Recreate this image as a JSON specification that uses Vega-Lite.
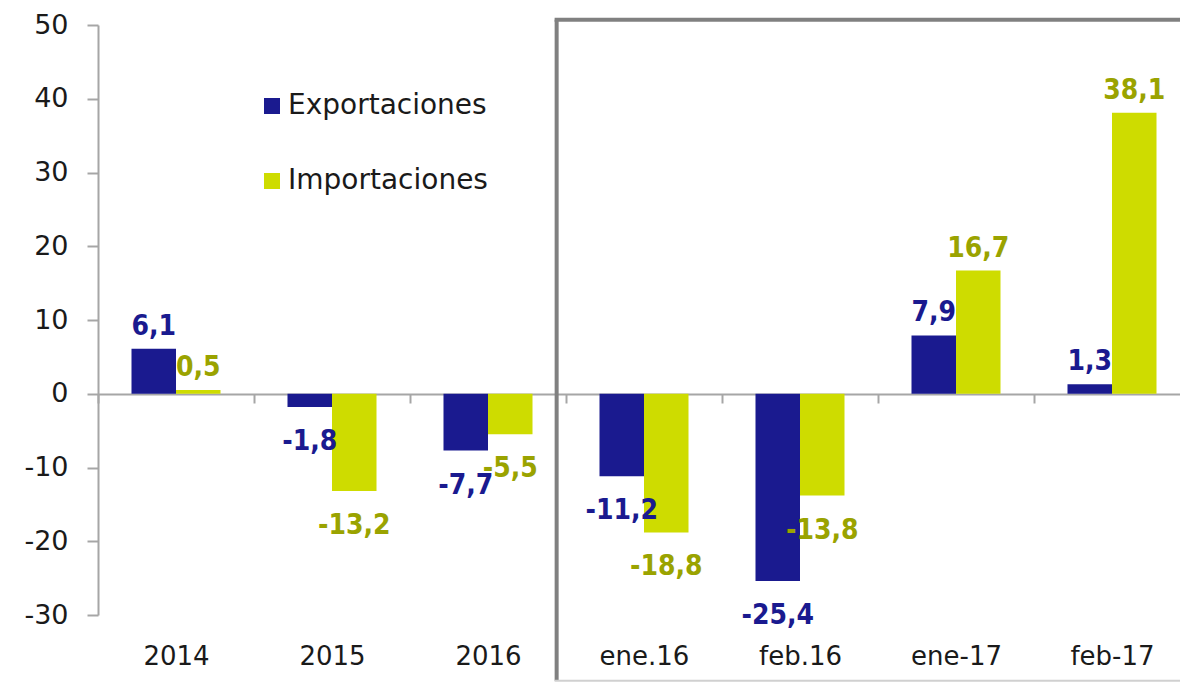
{
  "$schema": "https://vega.github.io/schema/vega-lite/v6.json",
  "width": 1092,
  "height": 590,
  "autosize": {"type": "none"},
  "padding": {"left": 98, "top": 25, "right": -10, "bottom": 68},
  "background": "white",
  "config": {
    "view": {"stroke": null},
    "locale": {"number": {"decimal": ",", "thousands": ".", "grouping": [3], "currency": ["", " €"], "minus": "-"}}
  },
  "data": {
    "values": [
      {"periodo": "2014", "serie": "Exportaciones", "valor": 6.1},
      {"periodo": "2014", "serie": "Importaciones", "valor": 0.5},
      {"periodo": "2015", "serie": "Exportaciones", "valor": -1.8},
      {"periodo": "2015", "serie": "Importaciones", "valor": -13.2},
      {"periodo": "2016", "serie": "Exportaciones", "valor": -7.7},
      {"periodo": "2016", "serie": "Importaciones", "valor": -5.5},
      {"periodo": "ene.16", "serie": "Exportaciones", "valor": -11.2},
      {"periodo": "ene.16", "serie": "Importaciones", "valor": -18.8},
      {"periodo": "feb.16", "serie": "Exportaciones", "valor": -25.4},
      {"periodo": "feb.16", "serie": "Importaciones", "valor": -13.8},
      {"periodo": "ene-17", "serie": "Exportaciones", "valor": 7.9},
      {"periodo": "ene-17", "serie": "Importaciones", "valor": 16.7},
      {"periodo": "feb-17", "serie": "Exportaciones", "valor": 1.3},
      {"periodo": "feb-17", "serie": "Importaciones", "valor": 38.1}
    ]
  },
  "resolve": {"scale": {"x": "independent"}, "axis": {"x": "independent"}},
  "layer": [
    {
      "data": {"values": [{}]},
      "layer": [
        {
          "mark": {"type": "rule", "stroke": "#808080", "strokeWidth": 4, "clip": false},
          "encoding": {
            "x": {"datum": 2.94, "type": "quantitative", "scale": {"domain": [0, 7], "nice": false, "zero": false}, "axis": null},
            "y": {"datum": 50.7, "type": "quantitative"},
            "y2": {"datum": -38.9}
          }
        },
        {
          "mark": {"type": "rule", "stroke": "#808080", "strokeWidth": 4, "clip": false},
          "encoding": {
            "x": {"datum": 2.927, "type": "quantitative"},
            "x2": {"datum": 7.5},
            "y": {"datum": 50.7, "type": "quantitative"}
          }
        },
        {
          "mark": {"type": "rule", "stroke": "#D0D0D0", "strokeWidth": 2, "clip": false},
          "encoding": {
            "x": {"datum": 2.927, "type": "quantitative"},
            "x2": {"datum": 7.5},
            "y": {"datum": -38.9, "type": "quantitative"}
          }
        }
      ]
    },
    {
      "layer": [
        {
          "mark": {"type": "bar"},
          "encoding": {
            "x": {
              "field": "periodo", "type": "nominal", "sort": null,
              "scale": {"paddingInner": 0, "paddingOuter": 0},
              "axis": {
                "orient": "bottom", "offset": -221, "title": null,
                "domainColor": "#A6A6A6", "domainWidth": 2,
                "tickColor": "#A6A6A6", "tickWidth": 2, "tickSize": 9, "tickBand": "extent",
                "labelPadding": 240, "labelAngle": 0, "labelFontSize": 26,
                "labelFont": "DejaVu Sans", "labelColor": "#1a1a1a", "labelBaseline": "top"
              }
            },
            "xOffset": {"field": "serie", "type": "nominal", "sort": ["Exportaciones", "Importaciones"], "scale": {"paddingInner": 0, "paddingOuter": 0.7526}},
            "y": {
              "field": "valor", "type": "quantitative",
              "scale": {"domain": [-30, 50], "nice": false},
              "axis": {
                "values": [-30, -20, -10, 0, 10, 20, 30, 40, 50], "format": "d", "title": null, "grid": false,
                "domainColor": "#A6A6A6", "domainWidth": 2,
                "tickColor": "#A6A6A6", "tickWidth": 2, "tickSize": 11,
                "labelFontSize": 27, "labelFont": "DejaVu Sans", "labelColor": "#1a1a1a", "labelPadding": 19
              }
            },
            "color": {
              "field": "serie", "type": "nominal",
              "scale": {"domain": ["Exportaciones", "Importaciones"], "range": ["#1A1A8F", "#CEDC00"]},
              "legend": {
                "title": null, "orient": "none", "legendX": 160, "legendY": 67, "direction": "vertical",
                "symbolType": "square", "symbolSize": 256, "symbolStrokeWidth": 0,
                "labelFontSize": 28, "labelFont": "DejaVu Sans", "labelColor": "#1a1a1a",
                "labelLimit": 400, "rowPadding": 47, "labelOffset": 2, "padding": 0
              }
            }
          }
        },
        {
          "transform": [{"filter": "datum.valor >= 0"}],
          "mark": {"type": "text", "font": "DejaVu Sans Condensed, Liberation Sans Narrow, DejaVu Sans", "fontSize": 28, "fontWeight": "bold", "baseline": "alphabetic", "dy": -14},
          "encoding": {
            "x": {"field": "periodo", "type": "nominal", "sort": null},
            "xOffset": {"field": "serie", "type": "nominal", "sort": ["Exportaciones", "Importaciones"]},
            "y": {"field": "valor", "type": "quantitative"},
            "text": {"field": "valor", "type": "quantitative", "format": ".1f"},
            "color": {"condition": {"test": "datum.serie === 'Exportaciones'", "value": "#1A1A8F"}, "value": "#9AA300"}
          }
        },
        {
          "transform": [{"filter": "datum.valor < 0"}],
          "mark": {"type": "text", "font": "DejaVu Sans Condensed, Liberation Sans Narrow, DejaVu Sans", "fontSize": 28, "fontWeight": "bold", "baseline": "alphabetic", "dy": 43},
          "encoding": {
            "x": {"field": "periodo", "type": "nominal", "sort": null},
            "xOffset": {"field": "serie", "type": "nominal", "sort": ["Exportaciones", "Importaciones"]},
            "y": {"field": "valor", "type": "quantitative"},
            "text": {"field": "valor", "type": "quantitative", "format": ".1f"},
            "color": {"condition": {"test": "datum.serie === 'Exportaciones'", "value": "#1A1A8F"}, "value": "#9AA300"}
          }
        }
      ]
    }
  ]
}
